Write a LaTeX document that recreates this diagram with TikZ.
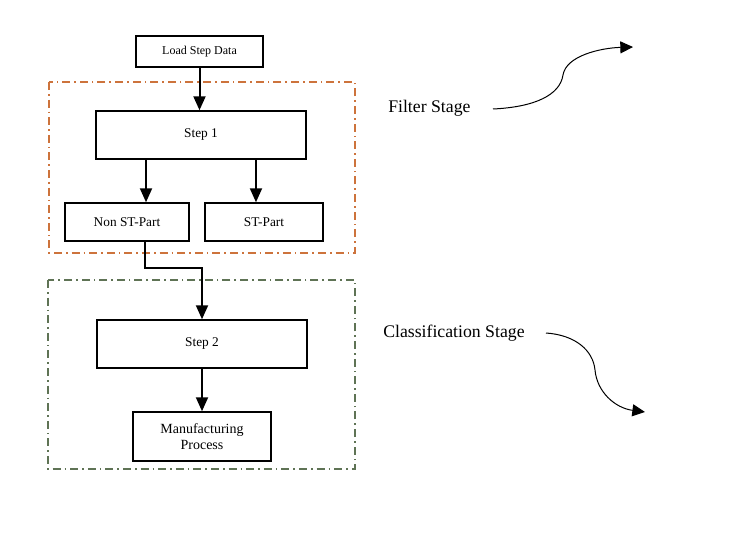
\documentclass[tikz,border=0pt]{standalone}
\usepackage{fontspec}
\setmainfont{Liberation Serif}
\usetikzlibrary{arrows.meta,calc}

\begin{document}
\begin{tikzpicture}[x=0.75pt,y=0.75pt,yscale=-1,xscale=1,
  box/.style={draw,line width=1.1pt,rectangle,inner sep=0.75pt,align=center,font=\fontsize{10}{11.5}\selectfont},
  flow/.style={line width=1.5pt,-{Triangle[length=10.5pt,width=9pt]}},
  swirl/.style={line width=0.75pt,-{Triangle[length=9.5pt,width=9pt]}},
  stage/.style={line width=0.9pt,dash pattern=on 6pt off 3pt on 1.2pt off 3pt},
  tag/.style={anchor=base west,inner sep=0.75pt,font=\fontsize{13.3}{15}\selectfont}]
\path (0,0) rectangle (732,549); %set diagram size 732 x 549

%Frames
\draw [stage,color={rgb, 255:red, 205; green, 115; blue, 60 }] (49,82) rectangle (355,253);
\draw [stage,color={rgb, 255:red, 95; green, 115; blue, 85 }] (48,280) rectangle (355,469);

%Boxes
\node [box,minimum width=95.25pt,minimum height=23.25pt,font=\fontsize{9}{11}\selectfont] (load) at (199.5,51.5) {Load Step Data};
\node [box,minimum width=157.5pt,minimum height=36pt] (step1) at (201,135) {Step 1};
\node [box,minimum width=93pt,minimum height=28.5pt] (nonst) at (127,222) {Non ST-Part};
\node [box,minimum width=88.5pt,minimum height=28.5pt] (st) at (264,222) {ST-Part};
\node [box,minimum width=157.5pt,minimum height=36pt] (step2) at (202,344) {Step 2};
\node [box,minimum width=103.5pt,minimum height=36.75pt,font=\fontsize{10.5}{11.5}\selectfont] (manuf) at (202,436.5) {Manufacturing\\Process};

%Flow arrows
\coordinate (s1l) at ($(step1.south west)!0.24!(step1.south east)$);
\coordinate (s1r) at ($(step1.south west)!0.76!(step1.south east)$);
\coordinate (nsout) at ($(nonst.south west)!0.645!(nonst.south east)$);
\coordinate (jog) at (202,268);
\draw [flow] (load.south) -- (load.south |- step1.north);
\draw [flow] (s1l) -- (s1l |- nonst.north);
\draw [flow] (s1r) -- (s1r |- st.north);
\draw [flow] (nsout) |- (jog) -- (step2.north);
\draw [flow] (step2.south) -- (manuf.north);

% Text Node
\node [tag] (filter) at (387,113) {Filter Stage};
% Text Node
\node [tag] (classif) at (382,337) {Classification Stage};

%Curve Lines
\coordinate (fa) at (493,109);
\coordinate (fb) at (633,47);
\draw [swirl] (fa) .. controls (535,107) and (560,95) .. (563,75) .. controls (566,56) and (600,48) .. (fb);
%Curve Lines
\coordinate (ca) at (546,333);
\coordinate (cb) at (645,412);
\draw [swirl] (ca) .. controls (575,335) and (593,350) .. (595,370) .. controls (597,392) and (615,408) .. (cb);

\end{tikzpicture}
\end{document}
